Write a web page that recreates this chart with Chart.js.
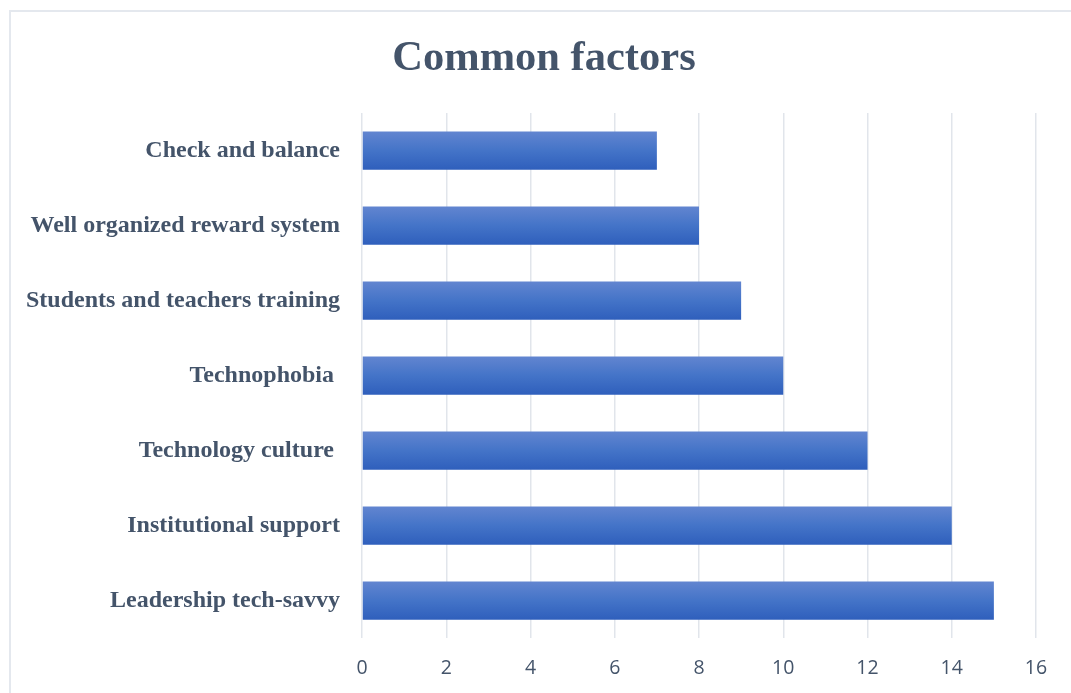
<!DOCTYPE html>
<html>
<head>
<meta charset="utf-8">
<script src="https://cdn.jsdelivr.net/npm/chart.js@4/dist/chart.umd.min.js"></script>
<style>
  html, body { margin: 0; padding: 0; background: #fff; overflow: hidden; }
  #frame {
    position: absolute; left: 9px; top: 10px; width: 1100px; height: 720px;
    border-left: 2px solid #E4E8EE; border-top: 2px solid #E4E8EE;
  }
  #wrap { position: absolute; left: 0; top: 0; width: 1071px; height: 693px; }
</style>
</head>
<body>
<div id="frame"></div>
<div id="wrap"><canvas id="myChart" width="1071" height="693"></canvas></div>
<script>
// values
var factors = ["Check and balance", "Well organized reward system", "Students and teachers training",
               "Technophobia ", "Technology culture ", "Institutional support", "Leadership tech-savvy"];
var counts = [7, 8, 9, 10, 12, 14, 15];
var xTicks = [0, 2, 4, 6, 8, 10, 12, 14, 16];
var titleText = 'Common factors';

var SLATE = '#44546A';

function barFill(ctx) {
  var chart = ctx.chart;
  if (!chart.chartArea || !chart.scales.y) return '#4472C4';
  var yc = chart.scales.y.getPixelForValue(ctx.dataIndex);
  var g = chart.ctx.createLinearGradient(0, yc - 19, 0, yc + 19);
  g.addColorStop(0, '#6285D0');
  g.addColorStop(0.5, '#4474C8');
  g.addColorStop(1, '#2F5FBC');
  return g;
}

// title is centred on the whole frame, not on the chart box
var frameTitle = {
  id: 'frameTitle',
  afterDraw: function (chart) {
    var c = chart.ctx;
    c.save();
    c.fillStyle = SLATE;
    c.font = 'bold 42.5px "Liberation Serif", "Times New Roman", serif';
    c.textAlign = 'center';
    c.textBaseline = 'middle';
    c.fillText(titleText, 544, 59.5);
    c.restore();
  }
};

new Chart("myChart", {
  type: "bar",
  data: {
    labels: factors,
    datasets: [{
      data: counts,
      backgroundColor: barFill,
      borderWidth: 0,
      categoryPercentage: 1,
      barPercentage: 0.51
    }]
  },
  plugins: [frameTitle],
  options: {
    indexAxis: 'y',
    responsive: false,
    animation: false,
    layout: { padding: { left: 0, right: 35, top: 113, bottom: 0 } },
    plugins: {
      legend: { display: false },
      tooltip: { enabled: false },
      title: { display: false }
    },
    scales: {
      x: {
        min: 0, max: 16,
        afterBuildTicks: function (s) { s.ticks = xTicks.map(function (v) { return { value: v }; }); },
        afterFit: function (s) { s.height = 55; },
        grid: { color: '#E1E5EB', lineWidth: 1.5, drawTicks: false },
        border: { display: false },
        ticks: {
          color: SLATE, padding: 19,
          font: { family: '"Open Sans", "Noto Sans", sans-serif', size: 19.5 }
        }
      },
      y: {
        afterFit: function (s) { s.width = 362; },
        grid: { display: false, drawTicks: false },
        border: { display: false },
        ticks: {
          color: SLATE, padding: 22,
          font: { family: '"Liberation Serif", "Times New Roman", serif', size: 24, weight: 'bold', lineHeight: 1.25 }
        }
      }
    }
  }
});
</script>
</body>
</html>
